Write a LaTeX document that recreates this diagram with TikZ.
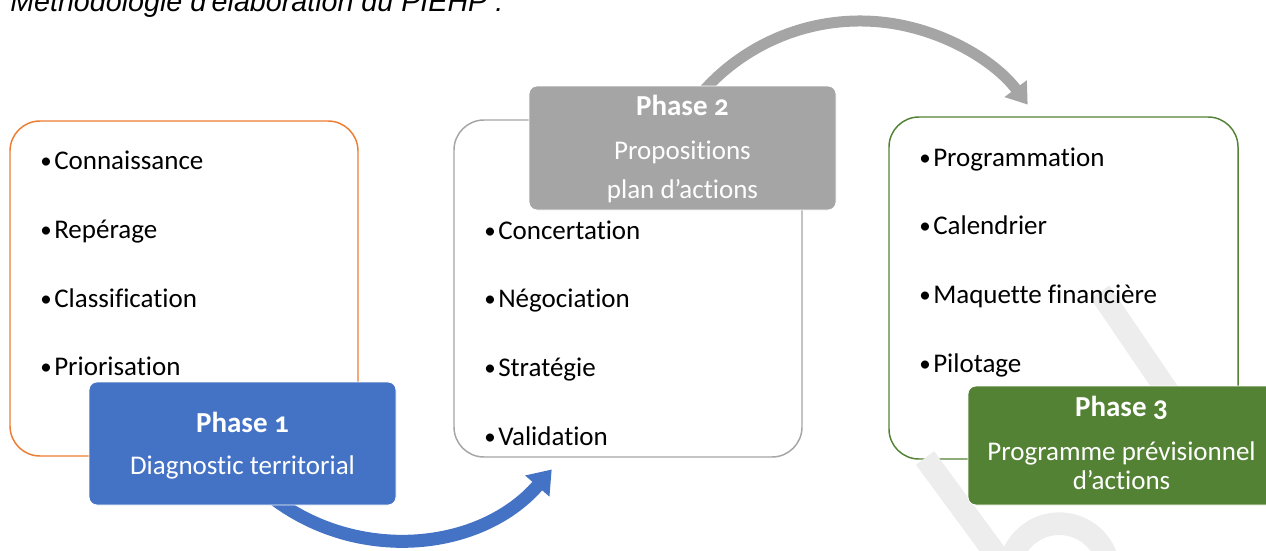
\documentclass[tikz,border=0pt]{standalone}
\usepackage{fontspec}
\setmainfont{Carlito}[Numbers=OldStyle, Ligatures={TeX,NoCommon}]
\newfontfamily\titlefont{Liberation Sans}
\usetikzlibrary{arrows.meta}
\definecolor{orA}{HTML}{ED7D31}
\definecolor{blA}{HTML}{4472C4}
\definecolor{grA}{HTML}{A5A5A5}
\definecolor{gnA}{HTML}{548235}
\definecolor{wmA}{HTML}{EDEDED}
\newcommand{\bul}{\makebox[10.5pt][l]{\raisebox{0.5pt}{\scalebox{0.85}{•}}}}
\begin{document}
\begin{tikzpicture}[x=0.75pt,y=0.75pt,
  bigbox/.style={draw, line width=1.1pt, rounded corners=22.5pt, fill=white, inner sep=0pt},
  phasebox/.style={draw=white, line width=0.6pt, rounded corners=6pt, inner sep=0pt},
  item/.style={anchor=base west, inner sep=0pt, text=black, font=\fontsize{20.25}{24}\selectfont},
  ptitle/.style={anchor=base, inner sep=0pt, text=white, font=\bfseries\fontsize{21.75}{24}\selectfont},
  ptext/.style={anchor=base, inner sep=0pt, text=white, font=\fontsize{20.25}{24}\selectfont},
  blueflow/.style={draw=blA, line width=9.75pt, -{Triangle[length=16.5pt,width=23pt]}},
  grayflow/.style={draw=grA, line width=8.25pt, -{Triangle[length=15pt,width=20pt]}},
  wmark/.style={draw=wmA, line width=17pt}
]
\useasboundingbox (0,0) rectangle (1266,-550);

% title (clipped at the top edge)
\node[anchor=base west, inner sep=0pt, font=\titlefont\itshape\fontsize{21.5}{24}\selectfont] (title) at (10,-11) {Méthodologie d'élaboration du PIEHP :};

% outer boxes
\node[bigbox, draw=orA, minimum width=261pt, minimum height=251.25pt] (b1) at (184,-288.5) {};
\node[bigbox, draw=grA, minimum width=261pt, minimum height=252.75pt] (b2) at (628,-288.5) {};
\node[bigbox, draw=gnA, minimum width=261.75pt, minimum height=256.5pt] (b3) at (1063.5,-288) {};

% watermark traces
\draw[wmark] (1100,-292) -- (1168,-392);
\draw[wmark] (925,-458) -- (1000,-560);
\draw[wmark] (1010,-565) arc[start angle=170, end angle=20, radius=50];

% items
\node[item] (i11) at (40,-169) {\bul Connaissance};
\node[item] (i12) at (40,-238) {\bul Repérage};
\node[item] (i13) at (40,-307) {\bul Classification};
\node[item] (i14) at (40,-375) {\bul Priorisation};

\node[item] (i21) at (484,-239) {\bul Concertation};
\node[item] (i22) at (484,-307) {\bul Négociation};
\node[item] (i23) at (484,-376) {\bul Stratégie};
\node[item] (i24) at (484,-445) {\bul Validation};

\node[item] (i31) at (919,-166) {\bul Programmation};
\node[item] (i32) at (919,-234) {\bul Calendrier};
\node[item] (i33) at (919,-303) {\bul Maquette financière};
\node[item] (i34) at (919,-372) {\bul Pilotage};

% connectors (their starts are hidden under the phase boxes)
\coordinate (a1) at ([shift={(28.3,8.5)}]242.5,-505);
\coordinate (a2) at ([shift={(16.6,-10)}]682.5,-86);
\draw[blueflow] (a1) arc[start angle=232, end angle=319, radius=205];
\draw[grayflow] (a2) arc[start angle=140, end angle=37, radius=210];

% phase boxes
\node[phasebox, fill=blA, minimum width=230.25pt, minimum height=92.25pt] (p1) at (242.5,-443.5) {};
\node[phasebox, fill=grA, minimum width=230.25pt, minimum height=93pt] (p2) at (682.5,-148) {};
\node[phasebox, fill=gnA, minimum width=230.25pt, minimum height=89.25pt] (p3) at (1121.5,-445.5) {};

% phase texts
\node[ptitle] (p1a) at (242.5,-432) {Phase 1};
\node[ptext]  (p1c) at (242.5,-474) {Diagnostic territorial};

\node[ptitle] (p2a) at (682.5,-115) {Phase 2};
\node[ptext]  (p2c) at (682.5,-159) {Propositions};
\node[ptext]  (p2d) at (682.5,-198) {plan d'actions};

\node[ptitle] (p3a) at (1121.5,-416) {Phase 3};
\node[ptext]  (p3c) at (1121.5,-460) {Programme prévisionnel};
\node[ptext]  (p3d) at (1121.5,-489) {d'actions};
\end{tikzpicture}
\end{document}
